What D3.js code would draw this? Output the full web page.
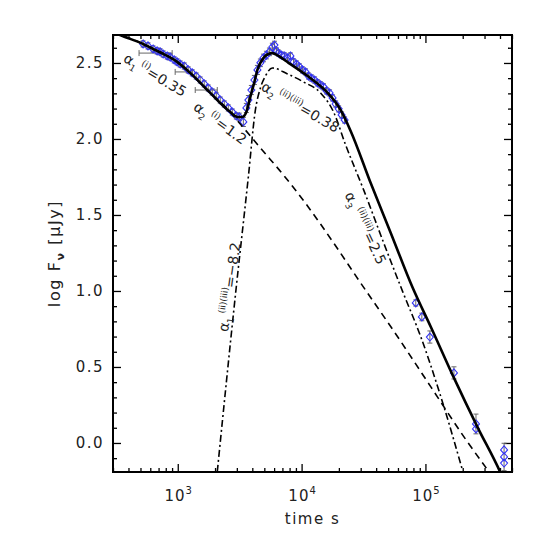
<!DOCTYPE html>
<html lang="en">
<head>
  <meta charset="UTF-8">
  <title>afterglow light curve</title>
  <script src="https://cdn.jsdelivr.net/npm/d3@7"></script>
  <style>
    html, body {
      margin: 0;
      padding: 0;
      background: #fff;
      overflow: hidden;
    }
    #chart {
      width: 545px;
      height: 545px;
    }
    text {
      font-family: "DejaVu Sans", sans-serif;
      fill: #222;
    }
  </style>
</head>
<body>
  <div id="chart"></div>
  <script>
    // axis ranges and ticks
    const timeRange = [300, 5e5];
    const fluxRange = [-0.191, 2.684];
    const xMajor = [1e3, 1e4, 1e5];
    const yMajor = [0.0, 0.5, 1.0, 1.5, 2.0, 2.5];

    // total model (solid)
    const totalT = [300, 342, 525, 681, 989, 1260, 1830, 2656, 3027, 3324, 3581, 3857, 4159, 4396, 4918, 5395, 5808,
      6501, 7834, 11170, 16220, 20650, 24890, 36140, 52480, 79070, 110600, 169900, 265700, 400600, 431500];
    const totalF = [2.704, 2.684, 2.625, 2.579, 2.507, 2.435, 2.303, 2.177, 2.145, 2.145, 2.177, 2.277, 2.375, 2.454,
      2.533, 2.559, 2.565, 2.546, 2.501, 2.414, 2.303, 2.191, 2.053, 1.710, 1.382, 1.019, 0.763, 0.428, 0.098, -0.190, -0.250];

    // component (i), dashed
    const dashT = [300, 525, 989, 1830, 2656, 3199, 3857, 4648, 7137, 11170, 18130, 28890, 59810, 110600, 204700, 326200];
    const dashF = [2.704, 2.625, 2.507, 2.303, 2.177, 2.098, 2.020, 1.941, 1.763, 1.559, 1.316, 1.072, 0.697, 0.369, 0.040, -0.190];

    // component (ii)(iii), dash-dot
    const dotT = [2085, 2917, 3718, 4236, 4648, 5101, 5808, 7692, 10360, 14223, 18130, 22670, 31700, 46030, 65610, 91830, 133300, 200900];
    const dotF = [-0.190, 0.968, 1.753, 2.191, 2.335, 2.414, 2.467, 2.428, 2.375, 2.303, 2.177, 1.961, 1.665, 1.316, 0.994, 0.697, 0.303, -0.190];

    // observed points
    const obsT = [525, 575, 632, 681, 721, 763, 821, 869, 936, 989, 1047, 1128, 1215, 1308, 1409, 1517, 1636, 1762, 1899, 2046,
      2204, 2376, 2559, 2758, 2971, 3141, 3386, 3581, 3718, 3929, 4159, 4396, 4648, 4918, 5200, 5500, 5808, 6039,
      6266, 6501, 6874, 7275, 7692, 8128, 8610, 9100, 9616, 10160, 10765, 11376, 12023, 12735, 13460, 14223, 15031, 15920,
      16827, 17783, 18836, 19907, 21038, 22233, 83560, 93540, 108600, 169900, 255900, 255900, 431500, 431500, 431500];
    const obsF = [2.625, 2.612, 2.592, 2.579, 2.573, 2.559, 2.546, 2.539, 2.520, 2.507, 2.493, 2.480, 2.454, 2.435, 2.414, 2.388,
      2.362, 2.335, 2.309, 2.283, 2.256, 2.230, 2.204, 2.177, 2.151, 2.145, 2.112, 2.204, 2.256, 2.322, 2.388, 2.454, 2.501,
      2.533, 2.552, 2.573, 2.605, 2.618, 2.579, 2.565, 2.552, 2.546, 2.533, 2.546, 2.507, 2.493, 2.474, 2.454, 2.441, 2.414,
      2.401, 2.388, 2.369, 2.356, 2.343, 2.316, 2.303, 2.270, 2.230, 2.198, 2.158, 2.125, 0.921, 0.829, 0.697, 0.461, 0.125,
      0.092, -0.046, -0.092, -0.132];
    const obsErr = [0.02, 0.02, 0.02, 0.02, 0.02, 0.02, 0.02, 0.02, 0.02, 0.02, 0.02, 0.02, 0.02, 0.02, 0.02, 0.02, 0.02, 0.02,
      0.02, 0.02, 0.02, 0.02, 0.02, 0.02, 0.02, 0.025, 0.03, 0.03, 0.03, 0.03, 0.03, 0.03, 0.025, 0.025, 0.025, 0.025, 0.025,
      0.025, 0.02, 0.02, 0.02, 0.02, 0.02, 0.02, 0.02, 0.02, 0.02, 0.02, 0.02, 0.02, 0.02, 0.02, 0.02, 0.02, 0.02, 0.02,
      0.02, 0.02, 0.02, 0.02, 0.02, 0.02, 0.02, 0.025, 0.04, 0.04, 0.065, 0, 0, 0.09, 0];

    // horizontal error bars of the early points
    const xbarFrom = [487, 953, 1384];
    const xbarTo = [901, 1308, 2085];
    const xbarF = [2.565, 2.441, 2.322];

    const W = 545, H = 545;
    const pL = 113, pR = 512, pT = 35, pB = 472;

    const svg = d3.select('#chart').append('svg')
      .attr('width', W)
      .attr('height', H);

    const x = d3.scaleLog().domain(timeRange).range([pL, pR]);
    const y = d3.scaleLinear().domain(fluxRange).range([pB, pT]);

    svg.append('clipPath').attr('id', 'clip')
      .append('rect')
      .attr('x', pL).attr('y', pT)
      .attr('width', pR - pL).attr('height', pB - pT);

    // ticks, all pointing inward
    const minorX = x.ticks().filter(t => !xMajor.includes(t));
    const minorY = d3.range(-1, 27).map(i => i / 10).filter(v => !yMajor.some(m => Math.abs(m - v) < 1e-6));

    function tickGroup(axis, tr) {
      const g = svg.append('g').attr('transform', tr).call(axis);
      g.select('.domain').remove();
      g.selectAll('line').attr('stroke', '#000').attr('stroke-width', 1.3);
      return g;
    }

    tickGroup(d3.axisBottom(x).tickValues(minorX).tickSize(-4).tickFormat(''), `translate(0,${pB})`);
    tickGroup(d3.axisBottom(x).tickValues(xMajor).tickSize(-8).tickFormat(''), `translate(0,${pB})`);
    tickGroup(d3.axisTop(x).tickValues(minorX).tickSize(-4).tickFormat(''), `translate(0,${pT})`);
    tickGroup(d3.axisTop(x).tickValues(xMajor).tickSize(-8).tickFormat(''), `translate(0,${pT})`);

    tickGroup(d3.axisLeft(y).tickValues(minorY).tickSize(-4).tickFormat(''), `translate(${pL},0)`);
    const yl = tickGroup(d3.axisLeft(y).tickValues(yMajor).tickSize(-8).tickPadding(9).tickFormat(d3.format('.1f')),
      `translate(${pL},0)`);
    yl.selectAll('text')
      .attr('font-size', 15)
      .attr('letter-spacing', '1.5px')
      .attr('fill', '#222')
      .style('font-family', '"DejaVu Sans", sans-serif');
    tickGroup(d3.axisRight(y).tickValues(minorY).tickSize(-4).tickFormat(''), `translate(${pR},0)`);
    tickGroup(d3.axisRight(y).tickValues(yMajor).tickSize(-8).tickFormat(''), `translate(${pR},0)`);

    // x tick labels 10^n
    xMajor.forEach(t => {
      const lab = svg.append('text')
        .attr('x', x(t) + 1)
        .attr('y', 501)
        .attr('text-anchor', 'middle')
        .attr('font-size', 15)
        .attr('letter-spacing', '1px');
      lab.append('tspan').text('10');
      lab.append('tspan').attr('dy', -7).attr('font-size', 10).text(Math.round(Math.log10(t)));
    });

    // axis titles
    svg.append('text')
      .attr('x', (pL + pR) / 2)
      .attr('y', 524)
      .attr('text-anchor', 'middle')
      .attr('font-size', 15)
      .attr('letter-spacing', '1.5px')
      .text('time  s');

    const ylab = svg.append('text')
      .attr('transform', `translate(60,${(pT + pB) / 2}) rotate(-90)`)
      .attr('text-anchor', 'middle')
      .attr('font-size', 16)
      .attr('letter-spacing', '1.6px');
    ylab.append('tspan').text('log  F');
    ylab.append('tspan').attr('dy', 4).attr('font-size', 11).attr('font-weight', 'bold').text('ν');
    ylab.append('tspan').attr('dy', -4).text(' [μJy]');

    // error bars
    const eb = svg.append('g').attr('clip-path', 'url(#clip)')
      .attr('stroke', '#666').attr('stroke-width', 1);
    obsT.forEach((t, i) => {
      if (!obsErr[i]) return;
      const cx = x(t), y0 = y(obsF[i] - obsErr[i]), y1 = y(obsF[i] + obsErr[i]);
      eb.append('line').attr('x1', cx).attr('x2', cx).attr('y1', y0).attr('y2', y1);
      eb.append('line').attr('x1', cx - 2.5).attr('x2', cx + 2.5).attr('y1', y0).attr('y2', y0);
      eb.append('line').attr('x1', cx - 2.5).attr('x2', cx + 2.5).attr('y1', y1).attr('y2', y1);
    });
    xbarF.forEach((f, i) => {
      const cy = y(f), x0 = x(xbarFrom[i]), x1 = x(xbarTo[i]);
      eb.append('line').attr('x1', x0).attr('x2', x1).attr('y1', cy).attr('y2', cy);
      eb.append('line').attr('x1', x0).attr('x2', x0).attr('y1', cy - 3).attr('y2', cy + 3);
      eb.append('line').attr('x1', x1).attr('x2', x1).attr('y1', cy - 3).attr('y2', cy + 3);
    });

    // diamonds
    svg.append('g').attr('clip-path', 'url(#clip)')
      .selectAll('path')
      .data(obsT)
      .join('path')
      .attr('transform', (t, i) => `translate(${x(t)},${y(obsF[i])})`)
      .attr('d', 'M0,-4L3.5,0L0,4L-3.5,0Z')
      .attr('fill', 'none')
      .attr('stroke', '#3434f5')
      .attr('stroke-width', 1.1);

    // model curves
    const line = d3.line()
      .x(d => x(d[0]))
      .y(d => y(d[1]))
      .curve(d3.curveMonotoneX);
    const curves = svg.append('g').attr('clip-path', 'url(#clip)').attr('fill', 'none').attr('stroke', '#000');
    curves.append('path')
      .attr('d', line(dashT.map((t, i) => [t, dashF[i]])))
      .attr('stroke-width', 1.6)
      .attr('stroke-dasharray', '7,5');
    curves.append('path')
      .attr('d', line(dotT.map((t, i) => [t, dotF[i]])))
      .attr('stroke-width', 1.6)
      .attr('stroke-dasharray', '7,3,2,3');
    curves.append('path')
      .attr('d', line(totalT.map((t, i) => [t, totalF[i]])))
      .attr('stroke-width', 2.6);

    // slope annotations
    function mathLabel(t, f, angle, parts) {
      const txt = svg.append('text')
        .attr('transform', `translate(${x(t)},${y(f)}) rotate(${angle})`)
        .attr('y', 5)
        .attr('text-anchor', 'middle')
        .attr('font-size', 14);
      let shift = 0;
      parts.forEach(p => {
        const target = p.sub ? 4 : p.sup ? -6 : 0;
        txt.append('tspan')
          .attr('dy', target - shift)
          .attr('font-size', p.sub || p.sup ? 9 : 14)
          .text(p.t);
        shift = target;
      });
    }
    mathLabel(656, 2.422, 31, [{t: 'α'}, {t: '1', sub: true}, {t: ' (i)', sup: true}, {t: '=0.35'}]);
    mathLabel(2204, 2.105, 36, [{t: 'α'}, {t: '2', sub: true}, {t: ' (i)', sup: true}, {t: '=1.2'}]);
    mathLabel(9795, 2.211, 30, [{t: 'α'}, {t: '2', sub: true}, {t: ' (ii)(iii)', sup: true}, {t: '=0.38'}]);
    mathLabel(32900, 1.414, 65, [{t: 'α'}, {t: '3', sub: true}, {t: ' (ii)(iii)', sup: true}, {t: '=2.5'}]);
    mathLabel(2608, 1.026, -82, [{t: 'α'}, {t: '1', sub: true}, {t: ' (ii)(iii)', sup: true}, {t: '=−8.2'}]);

    // frame
    svg.append('rect')
      .attr('x', pL).attr('y', pT)
      .attr('width', pR - pL).attr('height', pB - pT)
      .attr('fill', 'none')
      .attr('stroke', '#000')
      .attr('stroke-width', 2);
  </script>
</body>
</html>
